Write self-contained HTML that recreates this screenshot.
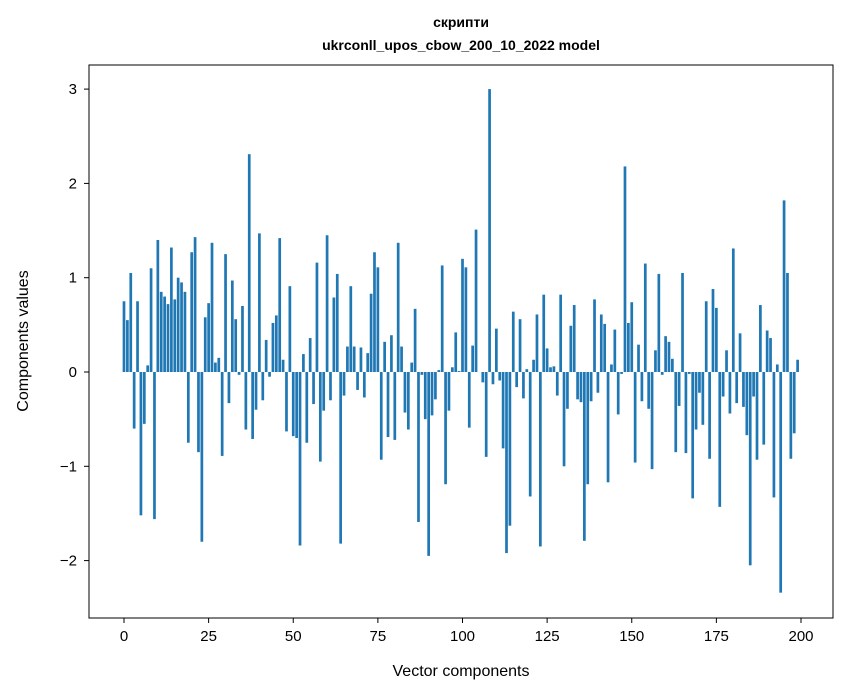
<!DOCTYPE html>
<html><head><meta charset="utf-8"><style>
body{margin:0;background:#fff;}
svg{display:block;font-family:"Liberation Sans","DejaVu Sans",sans-serif;}
</style></head><body>
<svg id="chart" width="847" height="696">
<text x="461" y="27" text-anchor="middle" font-size="14" font-weight="bold">скрипти</text>
<text x="461" y="50" text-anchor="middle" font-size="14" font-weight="bold">ukrconll_upos_cbow_200_10_2022 model</text>
<g id="bars"></g>
<rect x="89" y="65" width="744" height="553" fill="none" stroke="#000" stroke-width="1"/>
<g id="xt"></g>
<g id="yt"></g>
<text x="461" y="676" text-anchor="middle" font-size="16">Vector components</text>
<text transform="translate(28,341) rotate(-90)" text-anchor="middle" font-size="16">Components values</text>
</svg>
<script>
const values=[0.75,0.55,1.05,-0.6,0.75,-1.52,-0.55,0.07,1.1,-1.56,1.4,0.85,0.8,0.72,1.32,0.77,1.0,0.95,0.85,-0.75,1.27,1.43,-0.85,-1.8,0.58,0.73,1.37,0.1,0.15,-0.89,1.25,-0.33,0.97,0.56,-0.03,0.7,-0.61,2.31,-0.71,-0.4,1.47,-0.3,0.34,-0.05,0.52,0.6,1.42,0.13,-0.63,0.91,-0.68,-0.7,-1.84,0.19,-0.75,0.36,-0.34,1.16,-0.95,-0.41,1.45,-0.3,0.79,1.04,-1.82,-0.25,0.27,0.91,0.27,-0.19,0.26,-0.27,0.2,0.83,1.27,1.11,-0.93,0.32,-0.69,0.39,-0.72,1.37,0.27,-0.43,-0.61,0.1,0.67,-1.59,-0.03,-0.5,-1.95,-0.46,-0.29,0.02,1.13,-1.19,-0.41,0.05,0.42,0.01,1.2,1.11,-0.59,0.28,1.51,0,-0.11,-0.9,3.0,-0.13,0.46,-0.09,-0.81,-1.92,-1.63,0.64,-0.16,0.56,-0.28,0.03,-1.32,0.13,0.61,-1.85,0.82,0.25,0.05,0.06,-0.25,0.82,-1.0,-0.39,0.49,0.71,-0.29,-0.32,-1.79,-1.19,-0.31,0.77,-0.22,0.61,0.51,-1.17,0.08,0.45,-0.45,-0.02,2.18,0.52,0.74,-0.96,0.29,-0.31,1.15,-0.39,-1.03,0.23,1.04,-0.03,0.38,0.32,0.14,-0.85,-0.36,1.05,-0.86,-0.02,-1.34,-0.61,-0.22,-0.56,0.75,-0.92,0.88,0.68,-1.43,-0.26,0.23,-0.44,1.31,-0.33,0.41,-0.37,-0.67,-2.05,-0.26,-0.93,0.71,-0.77,0.44,0.36,-1.33,0.08,-2.34,1.82,1.05,-0.92,-0.65,0.13];
const xTicks=[0,25,50,75,100,125,150,175,200];
const yTicks=[-2,-1,0,1,2,3];
const NS="http://www.w3.org/2000/svg";
function xs(v){return 124+v*(801-124)/200;}
function ys(v){return 372-v*94.3;}
const bars=document.getElementById('bars');
values.forEach((v,i)=>{
  const r=document.createElementNS(NS,'rect');
  const w=0.8*(801-124)/200;
  r.setAttribute('x',xs(i)-w/2);
  r.setAttribute('width',w);
  r.setAttribute('y',Math.min(ys(v),ys(0)));
  r.setAttribute('height',Math.abs(ys(v)-ys(0)));
  r.setAttribute('fill','#1f77b4');
  
  
  bars.appendChild(r);
});
const xt=document.getElementById('xt');
xTicks.forEach(t=>{
  const l=document.createElementNS(NS,'line');
  l.setAttribute('x1',xs(t));l.setAttribute('x2',xs(t));l.setAttribute('y1',618);l.setAttribute('y2',623);l.setAttribute('stroke','#000');
  
  
  xt.appendChild(l);
  const tx=document.createElementNS(NS,'text');
  tx.setAttribute('x',xs(t));tx.setAttribute('y',641);tx.setAttribute('text-anchor','middle');tx.setAttribute('font-size','15');
  tx.textContent=t;
  
  
  xt.appendChild(tx);
});
const yt=document.getElementById('yt');
yTicks.forEach(t=>{
  const l=document.createElementNS(NS,'line');
  l.setAttribute('x1',84);l.setAttribute('x2',89);l.setAttribute('y1',ys(t));l.setAttribute('y2',ys(t));l.setAttribute('stroke','#000');
  
  
  yt.appendChild(l);
  const tx=document.createElementNS(NS,'text');
  tx.setAttribute('x',77);tx.setAttribute('y',ys(t)+5);tx.setAttribute('text-anchor','end');tx.setAttribute('font-size','15');
  tx.textContent=t<0?'\u2212'+Math.abs(t):String(t);
  
  
  yt.appendChild(tx);
});
</script>
</body></html>
